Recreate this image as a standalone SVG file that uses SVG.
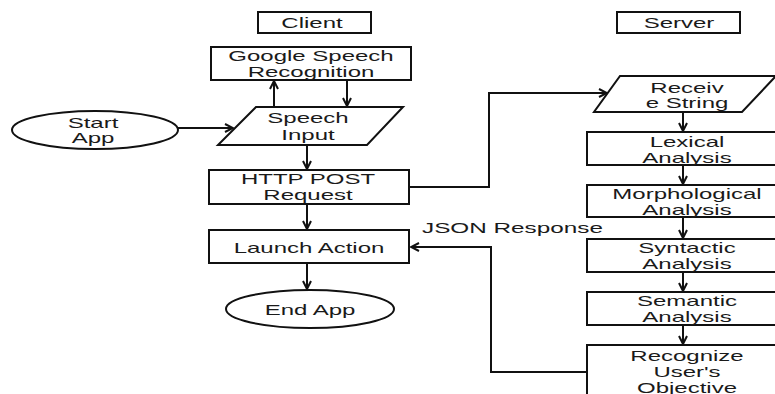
<svg xmlns="http://www.w3.org/2000/svg" width="775" height="394" viewBox="0 0 775 394">
<defs>
<marker id="ah" viewBox="0 0 10 10" refX="9" refY="5" markerWidth="10" markerHeight="10" markerUnits="userSpaceOnUse" orient="auto">
<path d="M1,1 L9,5 L1,9" fill="none" stroke="#111" stroke-width="2"/>
</marker>
<style>
.s{fill:#fff;stroke:#111;stroke-width:2}
.t{font-family:"Liberation Sans",Arial,sans-serif;font-size:15px;fill:#1a1a1a;text-anchor:middle}
.c{fill:none;stroke:#111;stroke-width:2;marker-end:url(#ah)}
</style>
</defs>
<rect width="775" height="394" fill="#fff"/>
<g id="connectors">
<path class="c" d="M178,128 L233,128"/>
<path class="c" d="M274,107 L274,81"/>
<path class="c" d="M347,80 L347,106"/>
<path class="c" d="M307,145 L307,169"/>
<path class="c" d="M307,204 L307,229"/>
<path class="c" d="M307,263 L307,289"/>
<path class="c" d="M409,187 L489,187 L489,93 L607,93"/>
<path class="c" d="M683,112 L683,131"/>
<path class="c" d="M683,165 L683,184"/>
<path class="c" d="M683,217 L683,238"/>
<path class="c" d="M683,272 L683,291"/>
<path class="c" d="M683,325 L683,344"/>
<path class="c" d="M587,372 L491,372 L491,247 L411,247"/>
</g>
<g id="client">
<rect class="s" x="258" y="12" width="113" height="21"/>
<text class="t" transform="translate(312,28) scale(1.6,1)">Client</text>
</g>
<g id="server">
<rect class="s" x="617" y="12" width="123" height="21"/>
<text class="t" transform="translate(679,28) scale(1.6,1)">Server</text>
</g>
<g id="google">
<rect class="s" x="211" y="47" width="200" height="33"/>
<text class="t" transform="translate(311,61) scale(1.6,1)"><tspan x="0">Google Speech</tspan><tspan x="0" dy="16">Recognition</tspan></text>
</g>
<g id="start">
<ellipse class="s" cx="95" cy="130" rx="83" ry="19"/>
<text class="t" transform="translate(93,128) scale(1.6,1)"><tspan x="0">Start</tspan><tspan x="0" dy="15">App</tspan></text>
</g>
<g id="speech">
<polygon class="s" points="256,107 403,107 367,145 218,145"/>
<text class="t" transform="translate(308,123) scale(1.6,1)"><tspan x="0">Speech</tspan><tspan x="0" dy="17">Input</tspan></text>
</g>
<g id="http">
<rect class="s" x="209" y="170" width="200" height="34"/>
<text class="t" transform="translate(308,184) scale(1.6,1)"><tspan x="0">HTTP POST</tspan><tspan x="0" dy="16">Request</tspan></text>
</g>
<g id="launch">
<rect class="s" x="209" y="230" width="200" height="33"/>
<text class="t" transform="translate(309,253) scale(1.6,1)">Launch Action</text>
</g>
<g id="end">
<ellipse class="s" cx="310" cy="309" rx="84" ry="19"/>
<text class="t" transform="translate(310,315) scale(1.6,1)">End App</text>
</g>
<g id="json">
<text class="t" style="text-anchor:start" transform="translate(422,233) scale(1.62,1)">JSON Response</text>
</g>
<g id="receive">
<polygon class="s" points="620,76 776,76 742,112 594,112"/>
<text class="t" transform="translate(687,93) scale(1.6,1)"><tspan x="0">Receiv</tspan><tspan x="0" dy="15">e String</tspan></text>
</g>
<g id="lexical">
<rect class="s" x="587" y="132" width="200" height="33"/>
<text class="t" transform="translate(687,147) scale(1.6,1)"><tspan x="0">Lexical</tspan><tspan x="0" dy="16">Analysis</tspan></text>
</g>
<g id="morph">
<rect class="s" x="587" y="185" width="200" height="32"/>
<text class="t" transform="translate(687,199) scale(1.6,1)"><tspan x="0">Morphological</tspan><tspan x="0" dy="16">Analysis</tspan></text>
</g>
<g id="syntactic">
<rect class="s" x="587" y="239" width="200" height="33"/>
<text class="t" transform="translate(687,253) scale(1.6,1)"><tspan x="0">Syntactic</tspan><tspan x="0" dy="16">Analysis</tspan></text>
</g>
<g id="semantic">
<rect class="s" x="587" y="292" width="200" height="33"/>
<text class="t" transform="translate(687,306) scale(1.6,1)"><tspan x="0">Semantic</tspan><tspan x="0" dy="16">Analysis</tspan></text>
</g>
<g id="recognize">
<rect class="s" x="587" y="345" width="200" height="60"/>
<text class="t" transform="translate(687,361) scale(1.6,1)"><tspan x="0">Recognize</tspan><tspan x="0" dy="16">User's</tspan><tspan x="0" dy="16">Objective</tspan></text>
</g>
</svg>
